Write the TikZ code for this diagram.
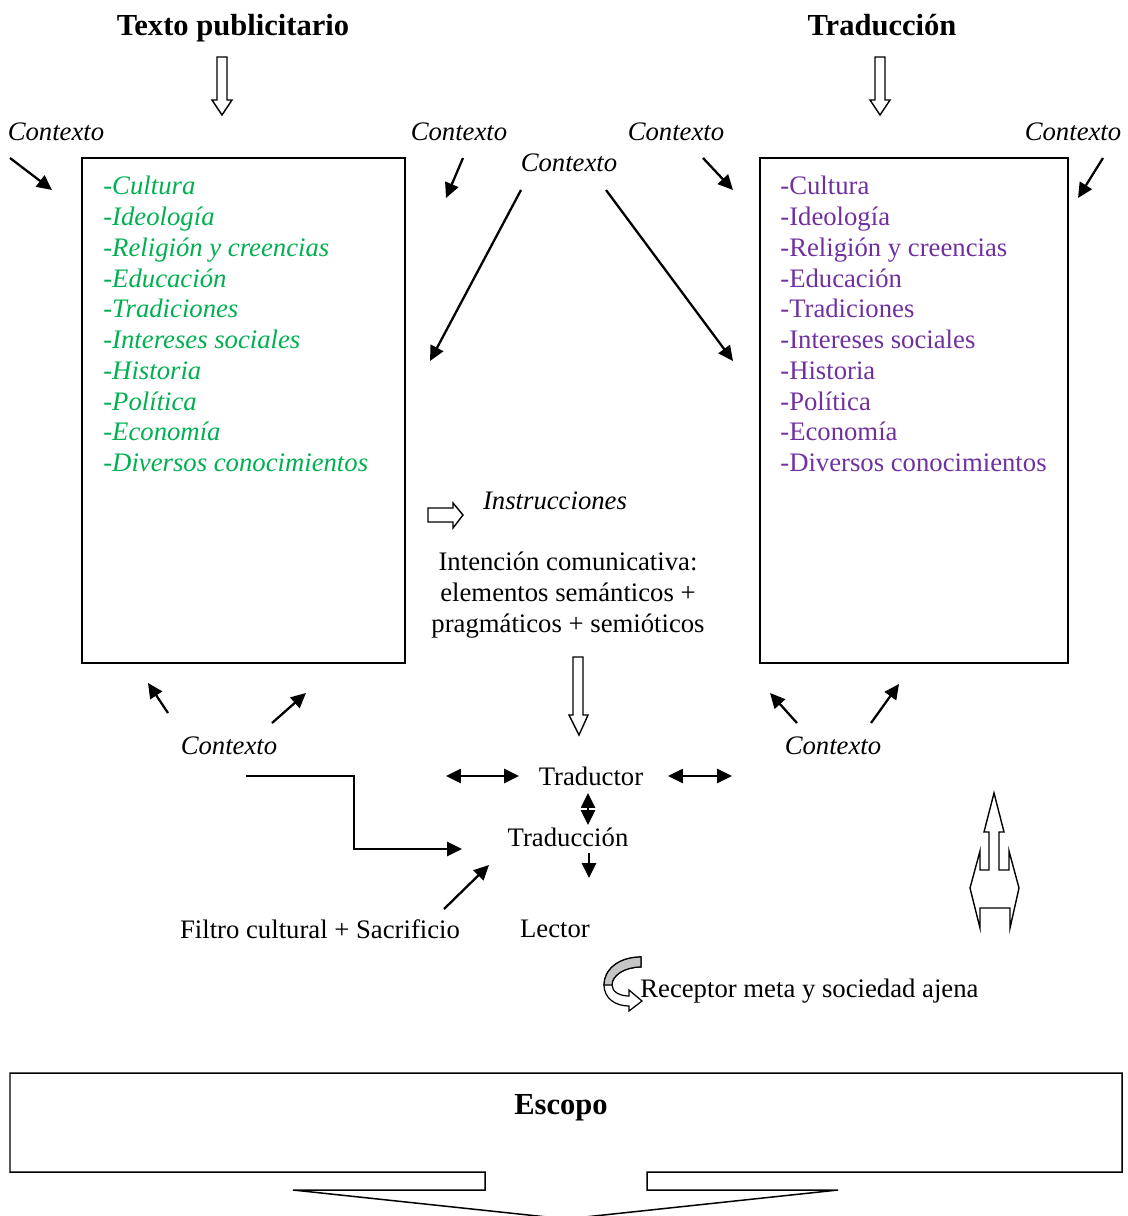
\documentclass[tikz,border=0pt]{standalone}
\usepackage{fontspec}
\setmainfont{Liberation Serif}
\usetikzlibrary{arrows.meta}
\definecolor{verde}{RGB}{0,176,80}
\definecolor{morado}{RGB}{112,48,160}

\begin{document}
\begin{tikzpicture}[x=0.02cm,y=-0.02cm,>={Stealth[length=8.5pt,width=8pt,inset=0pt]},
    font=\fontsize{15.2}{17.5}\selectfont]
  \tikzstyle{ctx}=[font=\fontsize{15.2}{17.5}\selectfont\itshape,inner sep=0]
  \tikzstyle{txt}=[inner sep=0]
  \tikzstyle{title}=[font=\fontsize{17.4}{20}\selectfont\bfseries,inner sep=0,anchor=base]
  \tikzstyle{lista}=[inner sep=0,align=left,anchor=north west]
  \tikzstyle{hollow}=[draw,fill=white,line width=0.8pt,line join=miter]
  \tikzstyle{con}=[->,line width=1.3pt]
  \tikzstyle{frame}=[draw,line width=0.85pt]
  \clip (0,0) rectangle (1127,1216);
  % titles
  \node[title](t-pub) at (233,36) {Texto publicitario};
  \node[title](t-trad) at (882,36) {Traducción};
  \draw[hollow] (217,57) -- ++(10,0) -- ++(0,43) -- ++(5,0) -- (222,115) -- (212,100) -- ++(5,0) -- cycle;
  \draw[hollow] (875,57) -- ++(10,0) -- ++(0,43) -- ++(5,0) -- (880,115) -- (870,100) -- ++(5,0) -- cycle;
  % the two boxes
  \draw[frame] (82,158) rectangle (405,663);
  \draw[frame] (760,158) rectangle (1068,663);
  \node[lista,text=verde,font=\fontsize{15.2}{17.5}\selectfont\itshape](lista-pub) at (103,176)
    {-Cultura\\-Ideología\\-Religión y creencias\\-Educación\\-Tradiciones\\-Intereses sociales\\-Historia\\-Política\\-Economía\\-Diversos conocimientos};
  \node[lista,text=morado](lista-trad) at (780,176)
    {-Cultura\\-Ideología\\-Religión y creencias\\-Educación\\-Tradiciones\\-Intereses sociales\\-Historia\\-Política\\-Economía\\-Diversos conocimientos};
  % contexto labels
  \node[ctx](ctx-1) at (56,132) {Contexto};
  \node[ctx](ctx-2) at (459,132) {Contexto};
  \node[ctx](ctx-3) at (676,132) {Contexto};
  \node[ctx](ctx-4) at (1073,132) {Contexto};
  \node[ctx](ctx-5) at (569,163) {Contexto};
  \node[ctx](ctx-6) at (229,746) {Contexto};
  \node[ctx](ctx-7) at (833,746) {Contexto};
  % arrows from the contexto labels
  \coordinate(c1a) at (10,158);   \coordinate(c1b) at (52,190);
  \coordinate(c2a) at (463,158);  \coordinate(c2b) at (446,198);
  \coordinate(c3a) at (703,158);  \coordinate(c3b) at (733,190);
  \coordinate(c4a) at (1103,158); \coordinate(c4b) at (1078,198);
  \coordinate(c5a) at (521,190);  \coordinate(c5b) at (430,361);
  \coordinate(c6a) at (606,190);  \coordinate(c6b) at (733,361);
  \coordinate(c7a) at (168,713);  \coordinate(c7b) at (148,683);
  \coordinate(c8a) at (272,723);  \coordinate(c8b) at (306,693);
  \coordinate(c9a) at (797,723);  \coordinate(c9b) at (770,693);
  \coordinate(c10a) at (871,723); \coordinate(c10b) at (899,684);
  \draw[con](c1a)--(c1b);
  \draw[con](c2a)--(c2b);
  \draw[con](c3a)--(c3b);
  \draw[con](c4a)--(c4b);
  \draw[con](c5a)--(c5b);
  \draw[con](c6a)--(c6b);
  \draw[con](c7a)--(c7b);
  \draw[con](c8a)--(c8b);
  \draw[con](c9a)--(c9b);
  \draw[con](c10a)--(c10b);
  % middle column
  \draw[hollow] (428,508) -- ++(25,0) -- ++(0,-5) -- (463,515) -- (453,528) -- ++(0,-6) -- ++(-25,0) -- cycle;
  \node[ctx](instr) at (555,501) {Instrucciones};
  \node[txt,align=center](intencion) at (568,595)
    {Intención comunicativa:\\elementos semánticos +\\pragmáticos + semióticos};
  \draw[hollow] (573,657) -- ++(10,0) -- ++(0,58) -- ++(5,0) -- (579,735) -- (569,715) -- ++(4,0) -- cycle;
  \node[txt](traductor) at (591,776) {Traductor};
  \node[txt](traduccion) at (568,837) {Traducción};
  \node[txt](lector) at (555,929) {Lector};
  \node[txt](filtro) at (320,929) {Filtro cultural + Sacrificio};
  \coordinate(d1a) at (446,776); \coordinate(d1b) at (519,776);
  \coordinate(d2a) at (668,776); \coordinate(d2b) at (732,776);
  \draw[con,<->](d1a)--(d1b);
  \draw[con,<->](d2a)--(d2b);
  \coordinate(g1) at (588,793); \coordinate(g2) at (588,825);
  \draw[con,<->](g1)--(g2);
  \coordinate(h1) at (589,853); \coordinate(h2) at (589,878);
  \draw[con](h1)--(h2);
  \coordinate(e1) at (246,776);
  \coordinate(e2) at (462,849);
  \draw[con](e1)--(354,776)--(354,849)--(e2);
  \coordinate(f1) at (444,909); \coordinate(f2) at (489,865);
  \draw[con](f1)--(f2);
  % receptor
  \fill[white,draw=black,line width=0.7pt] (641,957) .. controls (618,957) and (604,970) .. (604,985)
    .. controls (604,998) and (615,1006) .. (629,1006) -- (629,1011) -- (642,1001) -- (629,990)
    -- (629,996) .. controls (620,996) and (612,992) .. (612,985)
    .. controls (612,975) and (625,967) .. (641,967) -- cycle;
  \draw[fill=gray!45,line width=0.7pt] (641,957) .. controls (618,957) and (604,970) .. (604,985)
    -- (612,985) .. controls (612,975) and (625,967) .. (641,967) -- cycle;
  \node[txt,anchor=west](receptor) at (640,991) {Receptor meta y sociedad ajena};
  % up arrow on the right
  \draw[hollow] (994,793) -- (1004,832) -- (999,832) -- (999,870) -- (1009,870) -- (1009,851)
    -- (1019,888) -- (1010,928) -- (1010,908) -- (980,908) -- (980,928) -- (970,888) -- (980,851)
    -- (980,870) -- (989,870) -- (989,832) -- (984,832) -- cycle;
  % escopo
  \draw[frame,fill=white] (10,1073) -- (1122,1073) -- (1122,1172) -- (647,1172) -- (647,1190) -- (838,1190)
    -- (566,1219) -- (293,1190) -- (485,1190) -- (485,1172) -- (10,1172) -- cycle;
  \node[title](escopo) at (561,1114) {Escopo};
\end{tikzpicture}
\end{document}
